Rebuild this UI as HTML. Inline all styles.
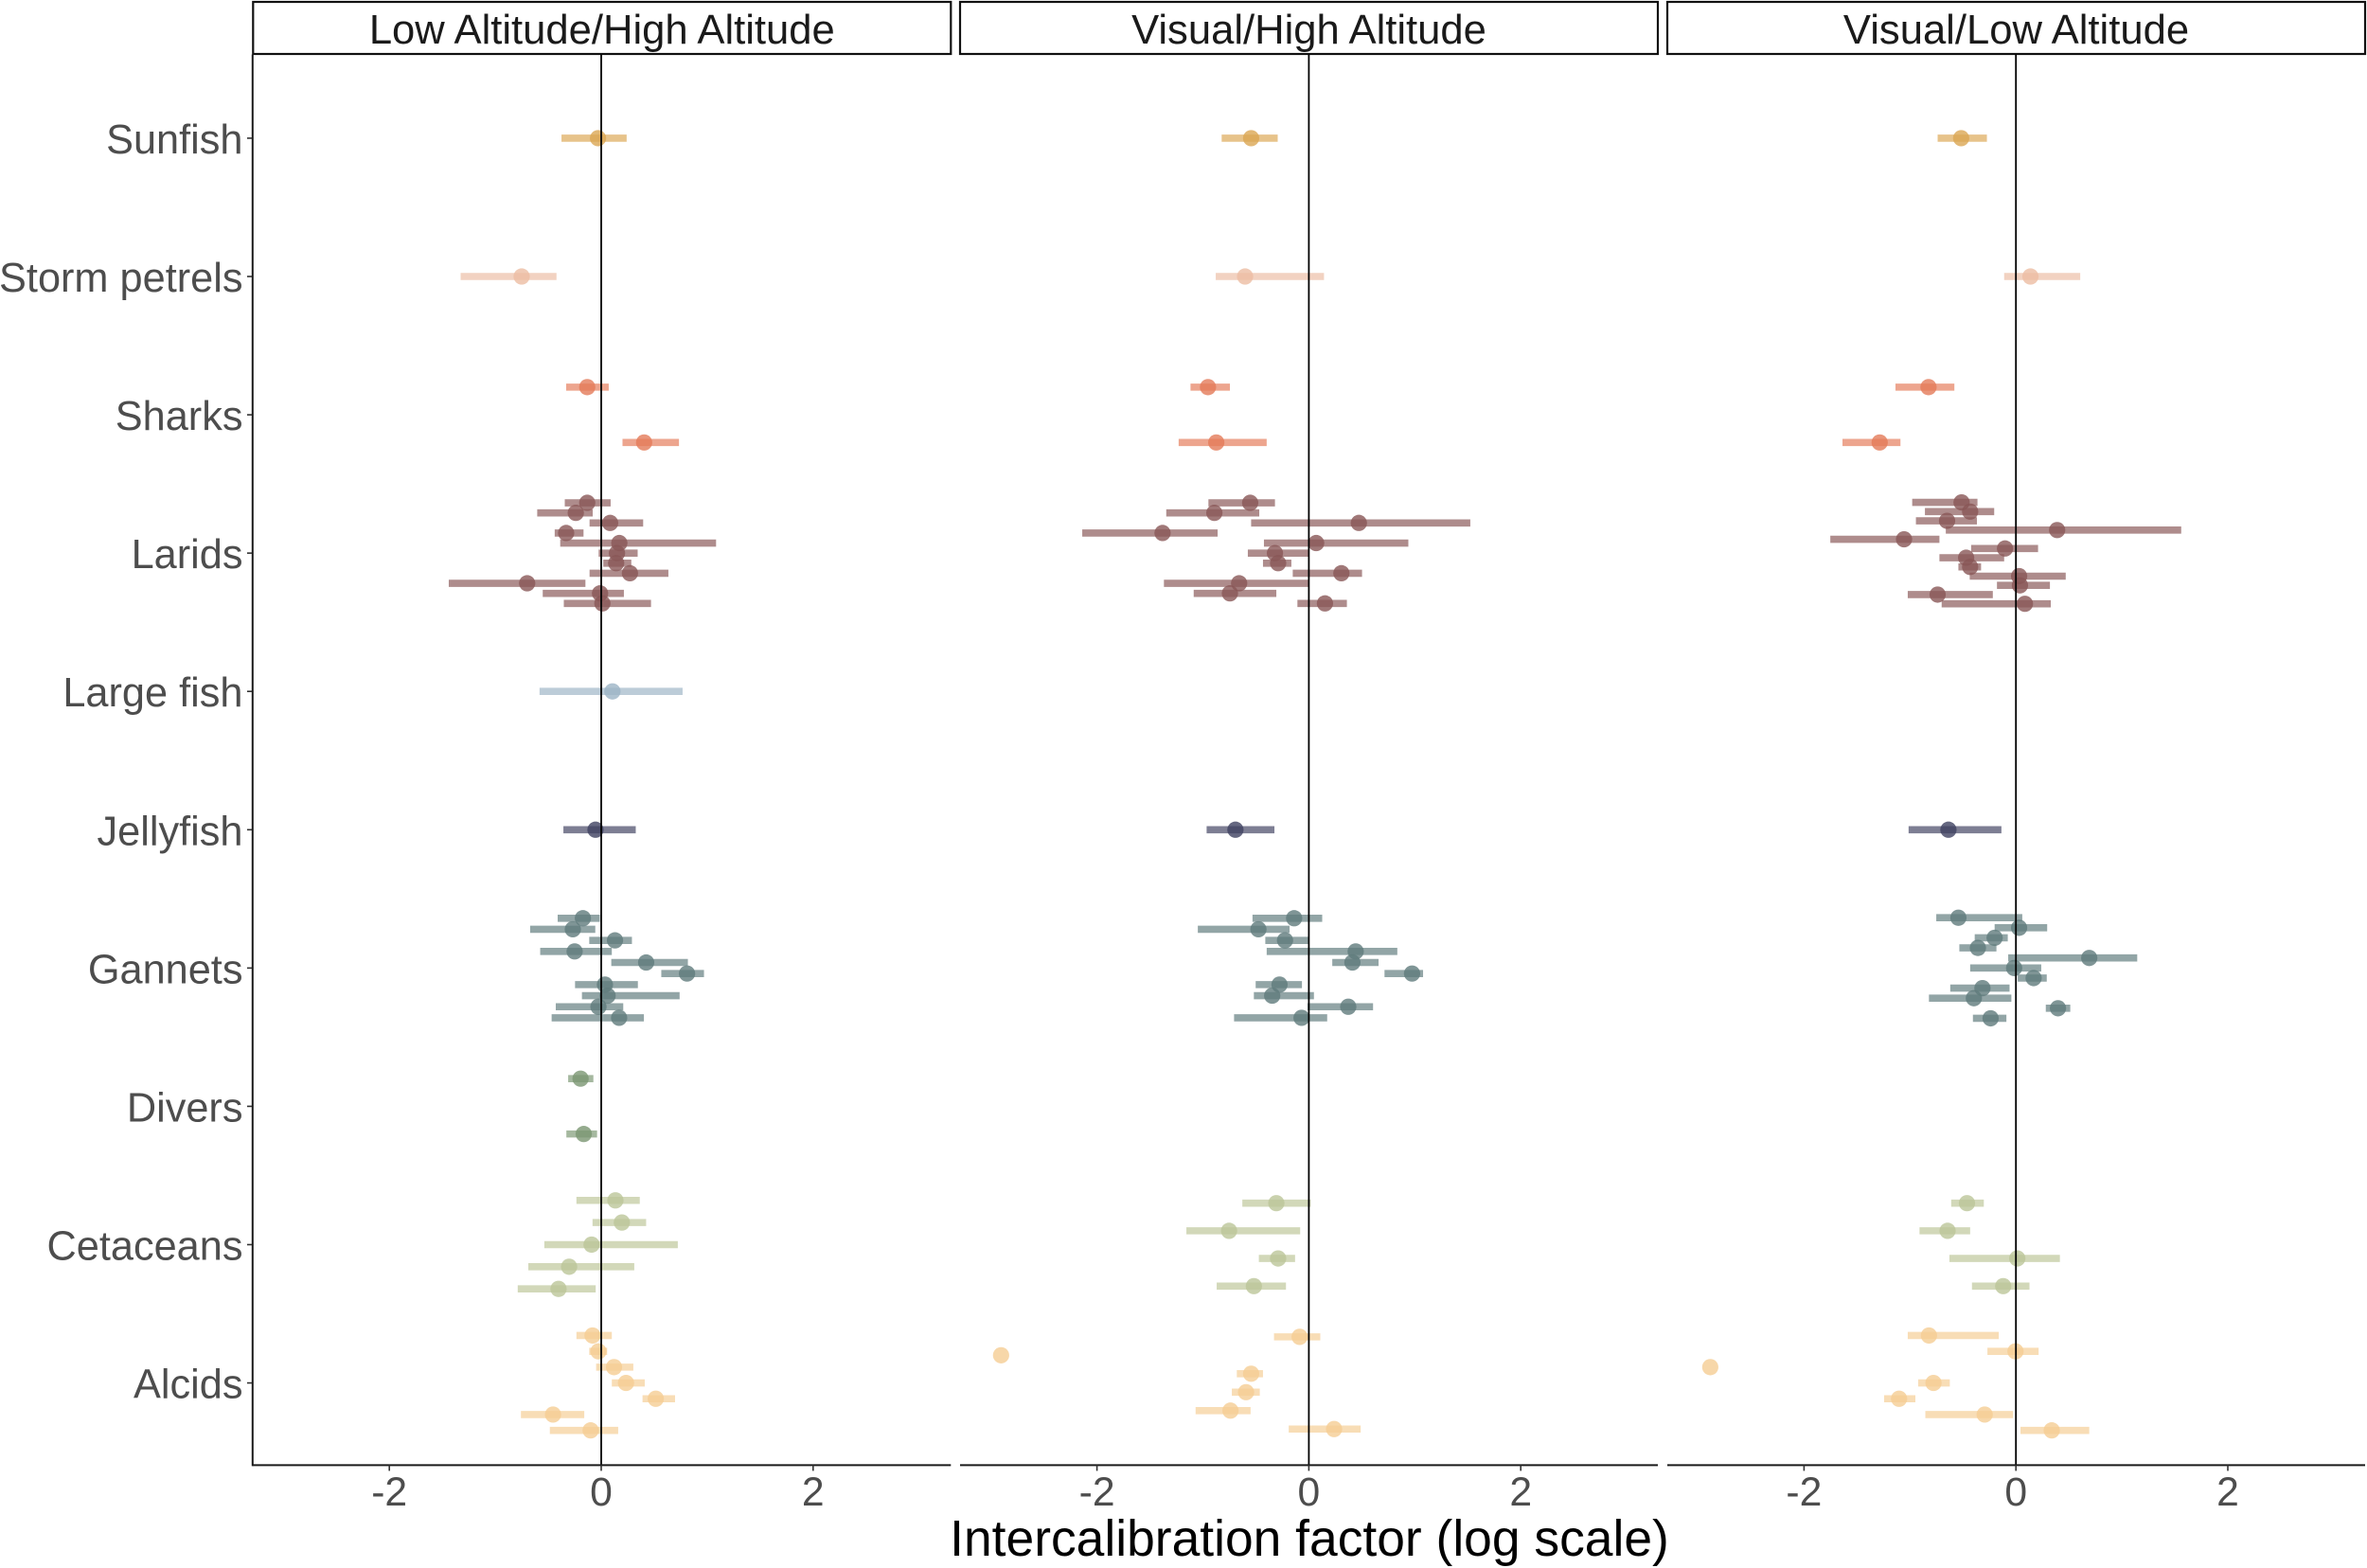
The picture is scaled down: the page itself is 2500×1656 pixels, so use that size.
<!DOCTYPE html>
<html lang="en">
<head>
<meta charset="utf-8">
<title>Intercalibration factor forest plot</title>
<style>
html,body{margin:0;padding:0;background:#fff;}
svg{display:block;font-family:"Liberation Sans",Arial,sans-serif;}
</style>
</head>
<body>
<svg id="chart" xmlns="http://www.w3.org/2000/svg" width="2500" height="1656" viewBox="0 0 2500 1656">
  <rect x="0" y="0" width="2500" height="1656" fill="#ffffff"/>
  <g id="strips"></g>
  <g id="marks"></g>
  <g id="axes"></g>
  <text x="1383" y="1643" text-anchor="middle" font-size="53.4" fill="#000000">Intercalibration factor (log scale)</text>
</svg>
<script>
const categories = ["Sunfish","Storm petrels","Sharks","Larids","Large fish","Jellyfish","Gannets","Divers","Cetaceans","Alcids"];
const pointColors = ["#dba653","#ecbda3","#e47a59","#885656","#9cb4c5","#3f4160","#5f7b7c","#7b9672","#bcc598","#f5cd93"];
const panelTitles = ["Low Altitude/High Altitude","Visual/High Altitude","Visual/Low Altitude"];
const xTickValues = [-2,0,2];
const xTickLabels = ["-2","0","2"];

// Number of estimates in each category, per panel
const lowHighCounts = [1,1,2,11,1,1,10,2,5,7];
const visualHighCounts = [1,1,2,11,0,1,10,0,4,6];
const visualLowCounts = [1,1,2,12,0,1,11,0,4,7];

const lowHighEst = [-0.03,-0.751,-0.132,0.405,-0.132,-0.24,0.084,-0.331,0.171,0.149,0.141,0.271,-0.699,-0.011,0.011,0.106,-0.054,-0.173,-0.268,0.13,-0.251,0.424,0.81,0.035,0.06,-0.026,0.169,-0.195,-0.165,0.134,0.195,-0.091,-0.303,-0.403,-0.082,-0.026,0.121,0.234,0.515,-0.455,-0.1];
const lowHighLow = [-0.375,-1.327,-0.331,0.201,-0.344,-0.604,-0.11,-0.439,-0.387,-0.024,0.019,-0.11,-1.439,-0.552,-0.353,-0.582,-0.357,-0.411,-0.671,-0.113,-0.576,0.095,0.567,-0.247,-0.182,-0.429,-0.468,-0.312,-0.329,-0.234,-0.082,-0.537,-0.688,-0.788,-0.234,-0.113,-0.048,0.1,0.39,-0.758,-0.485];
const lowHighHigh = [0.24,-0.422,0.071,0.734,0.089,-0.08,0.396,-0.167,1.084,0.344,0.284,0.634,-0.149,0.214,0.47,0.768,0.326,-0.013,-0.056,0.29,0.1,0.818,0.97,0.346,0.74,0.208,0.403,-0.074,-0.039,0.364,0.424,0.723,0.312,-0.052,0.1,0.056,0.303,0.411,0.697,-0.16,0.16];

const visualHighEst = [-0.545,-0.602,-0.952,-0.874,-0.554,-0.892,0.472,-1.381,0.069,-0.32,-0.29,0.307,-0.658,-0.745,0.152,-0.693,-0.139,-0.476,-0.225,0.442,0.411,0.974,-0.277,-0.346,0.372,-0.069,-0.307,-0.753,-0.29,-0.519,-0.087,-2.905,-0.545,-0.593,-0.74,0.238];
const visualHighLow = [-0.823,-0.879,-1.117,-1.229,-0.948,-1.346,-0.545,-2.139,-0.424,-0.576,-0.433,-0.152,-1.368,-1.087,-0.108,-0.965,-0.532,-1.048,-0.411,-0.398,0.221,0.714,-0.502,-0.519,-0.013,-0.706,-0.628,-1.156,-0.472,-0.87,-0.329,null,-0.68,-0.727,-1.069,-0.19];
const visualHighHigh = [-0.294,0.143,-0.745,-0.398,-0.32,-0.468,1.524,-0.861,0.939,0,-0.165,0.502,-0.004,-0.307,0.359,-0.325,0.126,-0.182,-0.004,0.835,0.658,1.078,-0.065,0.048,0.606,0.173,0.017,-0.082,-0.13,-0.216,0.108,null,-0.433,-0.463,-0.55,0.489];

const visualLowEst = [-0.517,0.137,-0.825,-1.286,-0.513,-0.432,-0.65,0.389,-1.056,-0.103,-0.47,-0.432,0.03,0.038,-0.739,0.085,-0.637,-0.543,0.03,-0.201,-0.359,0.692,-0.017,0.167,-0.316,-0.397,0.397,-0.239,-0.462,-0.645,0.013,-0.12,-0.821,-0.004,-2.885,-0.778,-1.103,-0.295,0.338];
const visualLowLow = [-0.739,-0.111,-1.137,-1.637,-0.979,-0.859,-0.944,-0.662,-1.752,-0.423,-0.722,-0.543,-0.436,-0.179,-1.021,-0.701,-1.013,-0.752,-0.201,-0.389,-0.534,-0.073,-0.432,0.017,-0.62,-0.821,0.282,-0.406,-0.611,-0.91,-0.628,-0.415,-1.021,-0.269,null,-0.923,-1.244,-0.855,0.043];
const visualLowHigh = [-0.274,0.607,-0.581,-1.09,-0.363,-0.205,-0.368,1.56,-0.722,0.209,-0.111,-0.329,0.47,0.321,-0.218,0.329,-0.137,0.06,0.295,-0.077,-0.184,1.145,0.239,0.291,-0.06,-0.043,0.513,-0.09,-0.303,-0.432,0.415,0.128,-0.162,0.214,null,-0.624,-0.949,-0.026,0.692];

const panelCounts = [lowHighCounts,visualHighCounts,visualLowCounts];
const panelEst = [lowHighEst,visualHighEst,visualLowEst];
const panelLow = [lowHighLow,visualHighLow,visualLowLow];
const panelHigh = [lowHighHigh,visualHighHigh,visualLowHigh];

const NS = "http://www.w3.org/2000/svg";
const panelLeft = [267.3,1014,1761];
const panelOrigin = [635,1382.4,2129.2];
const panelWidth = 737;
const plotTop = 57.5;
const plotBottom = 1547.4;
const unitX = 111.9;
const unitY = (plotBottom - plotTop) / (categories.length - 1 + 1.2);
const dodgeWidth = 0.8;
const yNudge = 0.8;

function xScale(panel, value){
  return panelOrigin[panel] + value * unitX;
}
function yScale(category, slot, count){
  const offset = count > 0 ? ((slot + 0.5) / count - 0.5) * dodgeWidth : 0;
  return plotTop + yNudge + (0.6 + category + offset) * unitY;
}
function make(tag, parent, attrs){
  const el = document.createElementNS(NS, tag);
  for (const k in attrs) el.setAttribute(k, attrs[k]);
  parent.appendChild(el);
  return el;
}
function slug(s){
  return s.toLowerCase().replace(/[^a-z0-9]+/g, '-');
}

const stripsG = document.getElementById('strips');
const marksG = document.getElementById('marks');
const axesG = document.getElementById('axes');

panelTitles.forEach(function(title, p){
  const box = make('rect', stripsG, {x:panelLeft[p], y:2, width:panelWidth, height:55, fill:'#ffffff', stroke:'#111111', 'stroke-width':2.2});
  
  
  const label = make('text', stripsG, {x:panelLeft[p] + panelWidth / 2, y:46, 'text-anchor':'middle', 'font-size':43.6, fill:'#1a1a1a'});
  label.textContent = title;
  
  
});

panelCounts.forEach(function(counts, p){
  const panelGroup = make('g', marksG, {});
  
  
  let index = 0;
  counts.forEach(function(n, c){
    for (let s = 0; s < n; s++, index++) {
      const y = yScale(c, s, n);
      if (panelLow[p][index] !== null) {
        const bar = make('line', panelGroup, {x1:xScale(p, panelLow[p][index]), x2:xScale(p, panelHigh[p][index]), y1:y, y2:y, stroke:pointColors[c], 'stroke-width':7.6, 'stroke-opacity':0.68});
        
        
      }
    }
  });
  index = 0;
  counts.forEach(function(n, c){
    for (let s = 0; s < n; s++, index++) {
      const y = yScale(c, s, n);
      const point = make('circle', panelGroup, {cx:xScale(p, panelEst[p][index]), cy:y, r:8.6, fill:pointColors[c], 'fill-opacity':0.8});
      
      
    }
  });
  const zero = make('line', panelGroup, {x1:xScale(p, 0), x2:xScale(p, 0), y1:plotTop, y2:plotBottom, stroke:'#000000', 'stroke-width':1.8});
  
  
});

panelTitles.forEach(function(title, p){
  const axisLine = make('line', axesG, {x1:panelLeft[p], x2:panelLeft[p] + panelWidth, y1:plotBottom, y2:plotBottom, stroke:'#1a1a1a', 'stroke-width':2});
  
  
  xTickValues.forEach(function(v, i){
    const tick = make('line', axesG, {x1:xScale(p, v), x2:xScale(p, v), y1:plotBottom, y2:plotBottom + 6, stroke:'#333333', 'stroke-width':1.6});
    
    
    const lab = make('text', axesG, {x:xScale(p, v), y:1590, 'text-anchor':'middle', 'font-size':42.67, fill:'#4d4d4d'});
    lab.textContent = xTickLabels[i];
    
    
  });
});

const yAxisLine = make('line', axesG, {x1:266.8, x2:266.8, y1:plotTop, y2:plotBottom + 1, stroke:'#1a1a1a', 'stroke-width':2});



categories.forEach(function(name, c){
  const y = yScale(c, 0, 1);
  const tick = make('line', axesG, {x1:261, x2:266, y1:y, y2:y, stroke:'#333333', 'stroke-width':1.6});
  
  
  const lab = make('text', axesG, {x:256.5, y:y + 16, 'text-anchor':'end', 'font-size':43.3, fill:'#4d4d4d'});
  lab.textContent = name;
  
  
});
</script>
</body>
</html>
